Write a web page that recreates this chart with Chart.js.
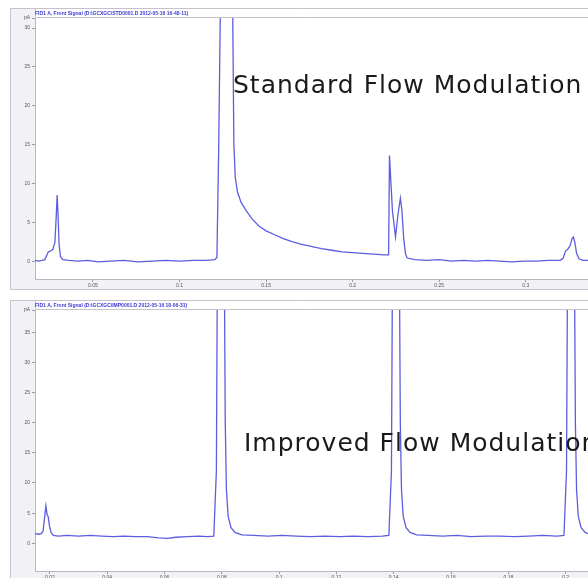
<!DOCTYPE html>
<html>
<head>
<meta charset="utf-8">
<script src="https://cdn.jsdelivr.net/npm/chart.js@4.4.1/dist/chart.umd.min.js"></script>
<style>
  html, body { margin: 0; padding: 0; background: #fff; overflow: hidden; }
  body { width: 588px; height: 578px; position: relative; }
  .panel { position: absolute; left: 10px; width: 578px; height: 282px; }
  #topPanel { top: 8px; }
  #bottomPanel { top: 300px; }
</style>
</head>
<body>
<div class="panel" id="topPanel"><canvas id="topChart"></canvas></div>
<div class="panel" id="bottomPanel"><canvas id="bottomChart"></canvas></div>
<script>
// top trace: standard flow modulation (time in min, signal in pA)
const topTimes = [
  0.0165, 0.0185, 0.0205, 0.0222, 0.0232, 0.0242, 0.0255, 0.0268, 0.0280, 0.0287,
  0.0293, 0.0298, 0.0304, 0.0312, 0.0325, 0.0360, 0.0410, 0.0470, 0.0530, 0.0600,
  0.0680, 0.0760, 0.0840, 0.0920, 0.1000, 0.1080, 0.1150, 0.1205, 0.1216, 0.1226,
  0.1240, 0.1255, 0.1300, 0.1308, 0.1314, 0.1322, 0.1335, 0.1355, 0.1385, 0.1420,
  0.1460, 0.1500, 0.1550, 0.1600, 0.1650, 0.1700, 0.1760, 0.1820, 0.1880, 0.1940,
  0.2000, 0.2060, 0.2120, 0.2180, 0.2208, 0.2213, 0.2230, 0.2248, 0.2262, 0.2276,
  0.2285, 0.2295, 0.2305, 0.2315, 0.2360, 0.2430, 0.2500, 0.2570, 0.2640, 0.2710,
  0.2780, 0.2850, 0.2920, 0.2990, 0.3060, 0.3130, 0.3200, 0.3217, 0.3230, 0.3242,
  0.3257, 0.3268, 0.3276, 0.3284, 0.3294, 0.3308, 0.3330, 0.3360
];
const topSignal = [
  0.1, 0.0, 0.1, 0.2, 0.7, 1.2, 1.3, 1.5, 2.4, 5.5,
  8.5, 6.0, 2.2, 0.6, 0.2, 0.1, 0.0, 0.1, -0.1, 0.0,
  0.1, -0.1, 0.0, 0.1, 0.0, 0.1, 0.1, 0.2, 0.5, 14,
  40, 70, 70, 30, 15, 10.8, 8.9, 7.6, 6.5, 5.4,
  4.5, 3.9, 3.4, 2.9, 2.5, 2.2, 1.9, 1.6, 1.4, 1.2,
  1.1, 1.0, 0.9, 0.8, 0.8, 13.6, 6.5, 3.1, 6.0, 8.1,
  6.5, 3.0, 1.0, 0.4, 0.2, 0.1, 0.2, 0.0, 0.1, 0.0,
  0.1, 0.0, -0.1, 0.0, 0.0, 0.1, 0.1, 0.4, 1.3, 1.5,
  2.0, 2.9, 3.1, 2.4, 1.0, 0.3, 0.1, 0.1
];

// bottom trace: improved flow modulation
const bottomTimes = [
  0.0148, 0.0160, 0.0170, 0.0176, 0.0182, 0.0186, 0.0190, 0.0194, 0.0198, 0.0204,
  0.0212, 0.0230, 0.0260, 0.0300, 0.0340, 0.0380, 0.0420, 0.0460, 0.0500, 0.0540,
  0.0580, 0.0610, 0.0640, 0.0680, 0.0720, 0.0750, 0.0772, 0.0781, 0.0786, 0.0807,
  0.0812, 0.0816, 0.0822, 0.0832, 0.0846, 0.0870, 0.0910, 0.0960, 0.1010, 0.1060,
  0.1110, 0.1160, 0.1210, 0.1260, 0.1310, 0.1360, 0.1383, 0.1392, 0.1397, 0.1418,
  0.1423, 0.1427, 0.1433, 0.1443, 0.1457, 0.1480, 0.1520, 0.1570, 0.1620, 0.1670,
  0.1720, 0.1770, 0.1820, 0.1870, 0.1920, 0.1970, 0.1994, 0.2003, 0.2008, 0.2029,
  0.2034, 0.2038, 0.2044, 0.2054, 0.2068, 0.2078
];
const bottomSignal = [
  1.6, 1.5, 1.6, 2.0, 4.5, 6.2, 4.8, 4.4, 3.0, 1.8,
  1.3, 1.2, 1.3, 1.2, 1.3, 1.2, 1.1, 1.2, 1.1, 1.1,
  0.9, 0.8, 1.0, 1.1, 1.2, 1.1, 1.2, 12, 60, 60,
  20, 9, 4.5, 2.6, 1.8, 1.4, 1.3, 1.2, 1.3, 1.2,
  1.1, 1.2, 1.1, 1.2, 1.1, 1.2, 1.3, 12, 60, 60,
  20, 9, 4.5, 2.6, 1.8, 1.4, 1.3, 1.2, 1.3, 1.1,
  1.2, 1.2, 1.1, 1.2, 1.3, 1.2, 1.3, 12, 60, 60,
  20, 9, 4.5, 2.6, 1.8, 1.6
];

// axis ticks and labels
const topXTicks = [0.05, 0.1, 0.15, 0.2, 0.25, 0.3];
const topXLabels = ['0.05', '0.1', '0.15', '0.2', '0.25', '0.3'];
const topYTicks = [0, 5, 10, 15, 20, 25, 30, 31.3];
const topYLabels = ['0', '5', '10', '15', '20', '25', '30', 'pA'];
const bottomXTicks = [0.02, 0.04, 0.06, 0.08, 0.1, 0.12, 0.14, 0.16, 0.18, 0.2];
const bottomXLabels = ['0.02', '0.04', '0.06', '0.08', '0.1', '0.12', '0.14', '0.16', '0.18', '0.2'];
const bottomYTicks = [0, 5, 10, 15, 20, 25, 30, 35, 38.7];
const bottomYLabels = ['0', '5', '10', '15', '20', '25', '30', '35', 'pA'];

const topTitle = 'FID1 A, Front Signal (D:\\GCXGC\\STD0001.D 2012-05-16 16-48-11)';
const bottomTitle = 'FID1 A, Front Signal (D:\\GCXGC\\IMP0001.D 2012-05-16 18-06-31)';

// draws the frame look: grey strips round a white plot area, plus the big note
const framePlugin = {
  id: 'frame',
  beforeDraw(chart) {
    const { ctx, chartArea: a, width, height } = chart;
    ctx.save();
    ctx.fillStyle = '#f2f1f6';
    ctx.fillRect(0, 0, width, height);
    ctx.fillStyle = '#ffffff';
    ctx.fillRect(a.left, 0, width - a.left, a.top);
    ctx.fillRect(a.left, a.top, a.right - a.left, a.bottom - a.top);
    ctx.strokeStyle = '#c4c3cc';
    ctx.lineWidth = 1;
    ctx.beginPath();
    ctx.moveTo(width, 0.5);
    ctx.lineTo(0.5, 0.5);
    ctx.lineTo(0.5, height - 0.5);
    ctx.lineTo(width, height - 0.5);
    ctx.moveTo(a.left + 0.5, 0.5);
    ctx.lineTo(a.left + 0.5, a.top - 0.5);
    ctx.lineTo(width, a.top - 0.5);
    ctx.stroke();
    ctx.restore();
  },
  afterDraw(chart, args, opts) {
    const { ctx } = chart;
    ctx.save();
    ctx.fillStyle = '#1a1a1a';
    ctx.font = '25px "DejaVu Sans"';
    ctx.letterSpacing = '1px';
    ctx.textBaseline = 'middle';
    ctx.fillText(opts.note, opts.noteX, opts.noteY);
    ctx.restore();
  }
};

function makePanel(id, title, note, noteX, noteY, times, signal,
                   xMin, xMax, xTicks, xLabels, yMin, yMax, yTicks, yLabels) {
  const points = times.map((t, i) => ({ x: t, y: signal[i] }));
  new Chart(document.getElementById(id), {
    type: 'line',
    data: {
      datasets: [{
        data: points,
        borderColor: 'rgba(75,75,220,0.9)',
        borderWidth: 1.3,
        pointRadius: 0,
        tension: 0,
        fill: false
      }]
    },
    options: {
      responsive: true,
      maintainAspectRatio: false,
      animation: false,
      layout: { padding: 0 },
      plugins: {
        legend: { display: false },
        tooltip: { enabled: false },
        title: {
          display: true,
          text: title,
          align: 'start',
          fullSize: false,
          color: '#3a3ad0',
          font: { size: 5, family: 'Arial, "Liberation Sans"' },
          padding: { top: 3, bottom: 1 }
        },
        frame: { note: note, noteX: noteX, noteY: noteY }
      },
      scales: {
        x: {
          type: 'linear',
          min: xMin,
          max: xMax,
          afterBuildTicks: s => { s.ticks = xTicks.map(v => ({ value: v })); },
          afterFit: s => { s.height = 11; },
          grid: { drawOnChartArea: false, tickLength: 3, color: '#9a9aa6' },
          border: { color: '#b8b8c2' },
          ticks: {
            maxRotation: 0,
            autoSkip: false,
            padding: 1,
            color: '#555',
            font: { size: 5, family: 'Arial, "Liberation Sans"' },
            callback: (v, i) => xLabels[i]
          }
        },
        y: {
          min: yMin,
          max: yMax,
          afterBuildTicks: s => { s.ticks = yTicks.map(v => ({ value: v })); },
          afterFit: s => { s.width = 25; },
          grid: { drawOnChartArea: false, tickLength: 3, color: '#9a9aa6' },
          border: { color: '#b8b8c2' },
          ticks: {
            autoSkip: false,
            padding: 2,
            color: '#555',
            font: { size: 5, family: 'Arial, "Liberation Sans"' },
            callback: (v, i) => yLabels[i]
          }
        }
      }
    },
    plugins: [framePlugin]
  });
}

makePanel('topChart', topTitle, 'Standard Flow Modulation', 223, 78,
  topTimes, topSignal, 0.0165, 0.336, topXTicks, topXLabels,
  -2.3, 31.3, topYTicks, topYLabels);

makePanel('bottomChart', bottomTitle, 'Improved Flow Modulation', 234, 144,
  bottomTimes, bottomSignal, 0.0148, 0.2078, bottomXTicks, bottomXLabels,
  -4.6, 38.7, bottomYTicks, bottomYLabels);
</script>
</body>
</html>
